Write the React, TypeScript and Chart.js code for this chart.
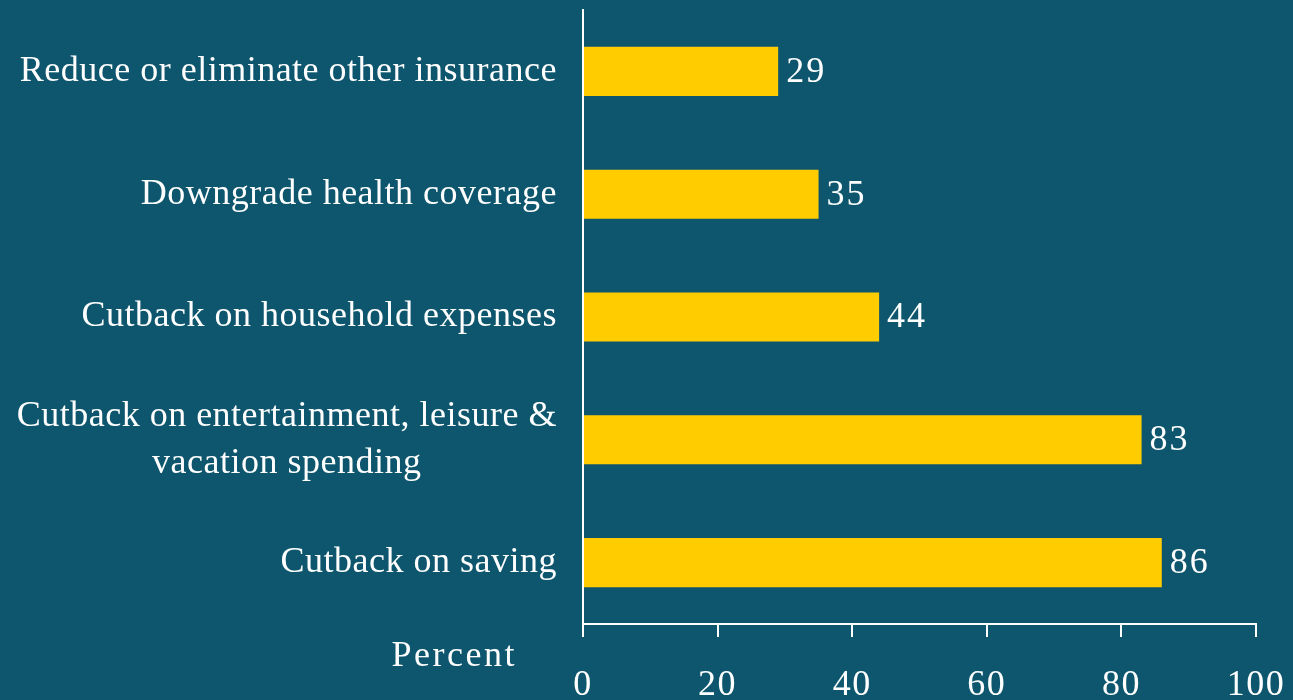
import React, { useEffect, useRef } from "react";
import { Chart, registerables } from "chart.js";

Chart.register(...registerables);

const categories: string[][] = [
  ["Reduce or eliminate other insurance"],
  ["Downgrade health coverage"],
  ["Cutback on household expenses"],
  ["Cutback on entertainment, leisure &", "vacation spending"],
  ["Cutback on saving"],
];
const values: number[] = [29, 35, 44, 83, 86];
const xTicks: number[] = [0, 20, 40, 60, 80, 100];
const axisTitle = "Percent";

const BG = "#0d566e";
const BAR = "#ffcc00";
const FONT = "'Liberation Serif', serif";
const FS = 36;

export default function App() {
  const ref = useRef<HTMLCanvasElement | null>(null);
  useEffect(() => {
    document.body.style.margin = "0";
    document.body.style.background = BG;
    const canvas = ref.current!;
    const labelPlugin = {
      id: "custom",
      beforeDraw(chart: any) {
        (chart.ctx as any).letterSpacing = "1.5px";
      },
      afterDraw(chart: any) {
        const ctx = chart.ctx;
        const ys = chart.scales.y;
        const xs = chart.scales.x;
        const area = chart.chartArea;
        ctx.save();
        ctx.fillStyle = "#ffffff";
        ctx.font = `${FS}px ${FONT}`;
        ctx.textBaseline = "middle";
        (ctx as any).letterSpacing = "0.5px";
        // category labels: block right-aligned, lines centered within block
        categories.forEach((lines, i) => {
          const cy = ys.getPixelForValue(i);
          const widths = lines.map((l) => ctx.measureText(l).width);
          const w = Math.max(...widths);
          const right = area.left - 26;
          const cx = right - w / 2;
          const lh = 47;
          const y0 = cy - ((lines.length - 1) * lh) / 2;
          ctx.textAlign = "center";
          lines.forEach((l, k) => ctx.fillText(l, cx, y0 + k * lh));
        });
        // value labels
        (ctx as any).letterSpacing = "2px";
        ctx.textAlign = "left";
        values.forEach((v, i) => {
          const x = xs.getPixelForValue(v);
          const y = ys.getPixelForValue(i);
          ctx.fillText(String(v), x + 8, y + 1);
        });
        // axis title
        (ctx as any).letterSpacing = "2.5px";
        ctx.textAlign = "right";
        ctx.fillText(axisTitle, area.left - 66, area.bottom + 33);
        ctx.restore();
        (ctx as any).letterSpacing = "0px";
      },
    };
    const chart = new Chart(canvas, {
      type: "bar",
      data: {
        labels: categories.map((c) => c.join(" ")),
        datasets: [
          {
            data: values,
            backgroundColor: BAR,
            barPercentage: 0.4,
            categoryPercentage: 1,
          },
        ],
      },
      options: {
        indexAxis: "y",
        animation: false,
        responsive: false,
        maintainAspectRatio: false,
        layout: { padding: { top: 10, right: 37, left: 0, bottom: 0 } },
        plugins: { legend: { display: false }, tooltip: { enabled: false } },
        scales: {
          x: {
            min: 0,
            max: 100,
            afterBuildTicks: (scale: any) => {
              scale.ticks = xTicks.map((v) => ({ value: v }));
            },
            afterFit: (scale: any) => {
              scale.height = 76;
              scale.paddingLeft = 0;
              scale.paddingRight = 0;
            },
            border: { display: true, color: "#ffffff", width: 2 },
            grid: {
              display: true,
              drawOnChartArea: false,
              drawTicks: true,
              tickLength: 13,
              color: "#ffffff",
              lineWidth: 2,
            },
            ticks: {
              color: "#ffffff",
              font: { family: FONT, size: FS },
              padding: 27,
              maxRotation: 0,
            },
          },
          y: {
            afterFit: (scale: any) => {
              scale.width = 583;
            },
            border: { display: true, color: "#ffffff", width: 2 },
            grid: { display: false },
            ticks: { display: false },
          },
        },
      },
      plugins: [labelPlugin],
    });
    return () => chart.destroy();
  }, []);
  return (
    <div style={{ width: 1293, height: 700, background: BG }}>
      <canvas ref={ref} width={1293} height={700} style={{ display: "block" }} />
    </div>
  );
}
